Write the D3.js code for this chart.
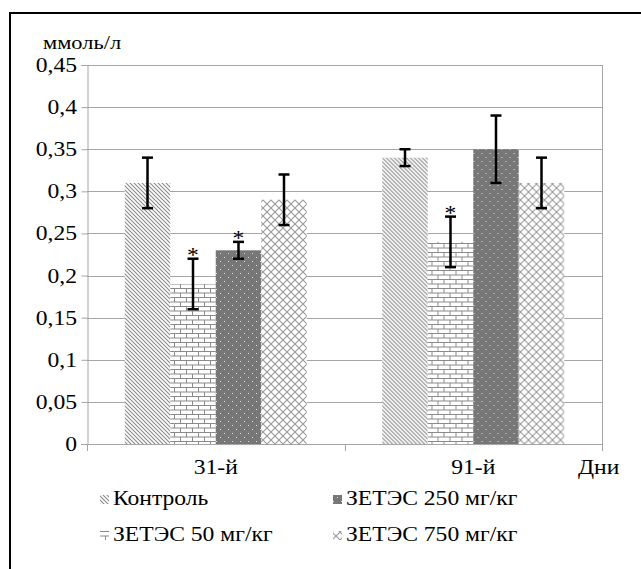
<!DOCTYPE html>
<html>
<head>
<meta charset="utf-8">
<script src="https://cdn.jsdelivr.net/npm/d3@7"></script>
</head>
<body style="margin:0">
<div id="chart"></div>
<script>
// Data
const days = ['31-й', '91-й'];
const seriesNames = ['Контроль', 'ЗЕТЭС 50 мг/кг', 'ЗЕТЭС 250 мг/кг', 'ЗЕТЭС 750 мг/кг'];
const values = [
  [0.31, 0.19, 0.23, 0.29],
  [0.34, 0.24, 0.35, 0.31]
];
const errors = [
  [0.03, 0.03, 0.01, 0.03],
  [0.01, 0.03, 0.04, 0.03]
];
const marked = [
  [false, true, true, false],
  [false, true, false, false]
];
const yTicks = [0, 0.05, 0.1, 0.15, 0.2, 0.25, 0.3, 0.35, 0.4, 0.45];

const width = 641, height = 569;
const plot = { left: 87, right: 602, top: 65, bottom: 444 };
const gridColor = '#a5a5a5';
const FONT = '"Liberation Serif"';
const STRETCH = 1.18; // the original picture is widened a little

const svg = d3.select('#chart').append('svg')
  .attr('width', width)
  .attr('height', height);

// text helper: serif text, slightly widened like the source image
function label(parent, x, y, size, anchor, str) {
  return parent.append('text')
    .attr('transform', `translate(${x},${y}) scale(${STRETCH},1)`)
    .attr('text-anchor', anchor)
    .style('font-family', FONT)
    .style('font-size', size + 'px')
    .attr('fill', '#000')
    .text(str);
}

// Patterns for each series
const defs = svg.append('defs');

const pCtrl = defs.append('pattern').attr('id', 'p0')
  .attr('patternUnits', 'userSpaceOnUse').attr('width', 4).attr('height', 4);
pCtrl.append('rect').attr('width', 4).attr('height', 4).attr('fill', '#fff');
pCtrl.append('path').attr('d', 'M-1,-1 L5,5 M-1,3 L1,5 M3,-1 L5,1')
  .attr('stroke', '#8a8a8a').attr('stroke-width', 1.1);

const pBrick = defs.append('pattern').attr('id', 'p1')
  .attr('patternUnits', 'userSpaceOnUse').attr('width', 12).attr('height', 9);
pBrick.append('rect').attr('width', 12).attr('height', 9).attr('fill', '#fff');
pBrick.append('path').attr('d', 'M0,0.5 H12 M0,5 H12 M3.5,0.5 V5 M9.5,5 V9')
  .attr('stroke', '#8a8a8a').attr('stroke-width', 1);

const pDots = defs.append('pattern').attr('id', 'p2')
  .attr('patternUnits', 'userSpaceOnUse').attr('width', 8).attr('height', 8);
pDots.append('rect').attr('width', 8).attr('height', 8).attr('fill', '#777');
pDots.append('rect').attr('x', 1).attr('y', 1).attr('width', 1).attr('height', 1).attr('fill', '#e0e0e0');
pDots.append('rect').attr('x', 5).attr('y', 5).attr('width', 1).attr('height', 1).attr('fill', '#e0e0e0');

const pCross = defs.append('pattern').attr('id', 'p3')
  .attr('patternUnits', 'userSpaceOnUse').attr('width', 8).attr('height', 8);
pCross.append('rect').attr('width', 8).attr('height', 8).attr('fill', '#fff');
pCross.append('path').attr('d', 'M0,0 L8,8 M8,0 L0,8')
  .attr('stroke', '#9a9a9a').attr('stroke-width', 1.1);

// Outer frame
svg.append('rect')
  .attr('x', 10).attr('y', 13)
  .attr('width', 660).attr('height', 600)
  .attr('fill', 'none').attr('stroke', '#000').attr('stroke-width', 2);

// Scales
const y = d3.scaleLinear().domain([0, 0.45]).range([plot.bottom, plot.top]);
const x0 = d3.scaleBand().domain(days).range([plot.left, plot.right]);
const x1 = d3.scaleBand().domain(seriesNames).range([0, x0.bandwidth()])
  .paddingInner(0).paddingOuter(0.83);

// Gridlines
svg.append('g')
  .selectAll('line')
  .data(yTicks.filter(d => d > 0))
  .enter().append('line')
  .attr('x1', plot.left).attr('x2', plot.right)
  .attr('y1', d => Math.round(y(d)) + 0.5).attr('y2', d => Math.round(y(d)) + 0.5)
  .attr('stroke', gridColor).attr('stroke-width', 1);

// Right plot border
svg.append('line')
  .attr('x1', plot.right + 0.5).attr('x2', plot.right + 0.5)
  .attr('y1', plot.top).attr('y2', plot.bottom)
  .attr('stroke', gridColor);

// Bars
const groups = svg.append('g').selectAll('g')
  .data(days)
  .enter().append('g')
  .attr('transform', d => `translate(${x0(d)},0)`);

groups.selectAll('rect')
  .data((d, i) => values[i].map((v, j) => ({ v, j })))
  .enter().append('rect')
  .attr('x', d => x1(seriesNames[d.j]))
  .attr('y', d => y(d.v))
  .attr('width', x1.bandwidth())
  .attr('height', d => y(0) - y(d.v))
  .attr('fill', d => `url(#p${d.j})`);

// Error bars
const capHalf = 5.5;
groups.each(function (day, i) {
  const g = d3.select(this);
  values[i].forEach((v, j) => {
    const cx = x1(seriesNames[j]) + x1.bandwidth() / 2;
    const top = y(v + errors[i][j]);
    const bot = y(v - errors[i][j]);
    const eg = g.append('g').attr('stroke', '#000').attr('stroke-width', 2.5);
    eg.append('line').attr('x1', cx).attr('x2', cx).attr('y1', top).attr('y2', bot);
    eg.append('line').attr('x1', cx - capHalf).attr('x2', cx + capHalf).attr('y1', top).attr('y2', top);
    eg.append('line').attr('x1', cx - capHalf).attr('x2', cx + capHalf).attr('y1', bot).attr('y2', bot);
    if (marked[i][j]) {
      label(g, cx, top + 3, 20, 'middle', '*');
    }
  });
});

// Y axis
const yAxis = d3.axisLeft(y)
  .tickValues(yTicks)
  .tickSize(6)
  .tickFormat('');

const yg = svg.append('g')
  .attr('transform', `translate(${plot.left + 0.5},0)`)
  .call(yAxis);
yg.select('.domain').attr('stroke', gridColor);
yg.selectAll('.tick line').attr('stroke', gridColor);

yTicks.forEach(t => {
  label(svg, 77, y(t) + 7, 20, 'end', d3.format('~g')(t).replace('.', ','));
});

// X axis line and boundary ticks
svg.append('line')
  .attr('x1', plot.left - 6).attr('x2', plot.right)
  .attr('y1', plot.bottom + 0.5).attr('y2', plot.bottom + 0.5)
  .attr('stroke', gridColor);

const bounds = [plot.left, x0(days[1]), plot.right];
svg.append('g').selectAll('line')
  .data(bounds)
  .enter().append('line')
  .attr('x1', d => Math.round(d) + 0.5).attr('x2', d => Math.round(d) + 0.5)
  .attr('y1', plot.bottom).attr('y2', plot.bottom + 7)
  .attr('stroke', gridColor);

days.forEach(d => {
  label(svg, x0(d) + x0.bandwidth() / 2, 474, 20, 'middle', d);
});
label(svg, 578, 474, 20, 'start', 'Дни');

// Unit label
label(svg, 43, 49, 19, 'start', 'ммоль/л');

// Legend
const legendPos = [
  { x: 100, y: 505 },
  { x: 100, y: 541 },
  { x: 333, y: 505 },
  { x: 333, y: 541 }
];
seriesNames.forEach((name, i) => {
  const p = legendPos[i];
  svg.append('rect')
    .attr('x', p.x).attr('y', p.y - 10)
    .attr('width', 9).attr('height', 9)
    .attr('fill', `url(#p${i})`);
  label(svg, p.x + 13, p.y, 20, 'start', name);
});
</script>
</body>
</html>
